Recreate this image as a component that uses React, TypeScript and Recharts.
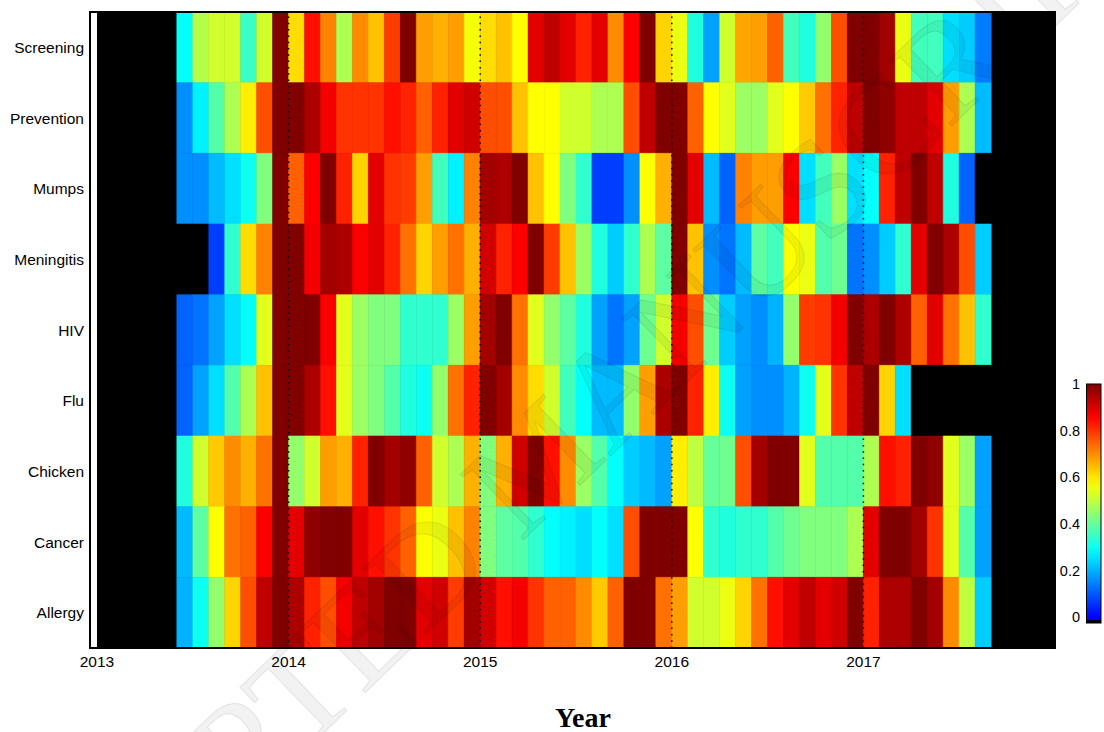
import React from 'react';
import { ScatterChart, Scatter, XAxis, YAxis, ReferenceArea, ReferenceLine } from 'recharts';

// Monthly intensity (0..1) per topic, June 2013 .. August 2017; null = no data
const CATEGORIES = ['Screening', 'Prevention', 'Mumps', 'Meningitis', 'HIV', 'Flu', 'Chicken', 'Cancer', 'Allergy'];
const FIRST_YEAR = 2013;
const LAST_YEAR = 2018;
const FIRST_MONTH = 5; // months after Jan 2013 (June 2013)
const YEAR_TICKS = [2013, 2014, 2015, 2016, 2017];
const YEAR_LINES = [2014, 2015, 2016, 2017];
const COLORBAR_TICKS = [0, 0.2, 0.4, 0.6, 0.8, 1];

const screening = [
  0.29, 0.49, 0.52, 0.52, 0.35, 0.52,
  1.0, 0.61, 0.84, 0.71, 0.48, 0.7, 0.64, 0.79, 1.0, 0.68,
  0.66, 0.68, 0.56, 0.61, 0.64, 0.57, 0.89, 0.93, 0.89, 0.82,
  0.89, 0.7, 0.86, 1.0, 0.62, 0.55, 0.32, 0.18, 0.52, 0.67,
  0.68, 0.75, 0.36, 0.32, 0.45, 0.77, 1.0, 1.0, 0.96, 0.55,
  0.36, 0.36, 0.25, 0.23, 0.14,
];
const prevention = [
  0.16, 0.27, 0.38, 0.48, 0.59, 0.77,
  1.0, 1.0, 0.95, 0.87, 0.8, 0.8, 0.8, 0.84, 0.82, 0.75,
  0.82, 0.89, 0.91, 0.77, 0.77, 0.64, 0.57, 0.57, 0.52, 0.52,
  0.48, 0.48, 0.77, 0.93, 1.0, 1.0, 0.75, 0.57, 0.54, 0.46,
  0.46, 0.54, 0.57, 0.63, 0.73, 0.82, 0.93, 1.0, 0.98, 0.93,
  0.93, 0.89, 0.68, 0.48, 0.21,
];
const mumps = [
  0.16, 0.16, 0.21, 0.25, 0.3, 0.43,
  1.0, 0.75, 0.86, 1.0, 0.82, 0.62, 0.89, 0.8, 0.79, 0.68,
  0.36, 0.27, 0.71, 0.96, 0.95, 1.0, 0.64, 0.57, 0.43, 0.34,
  0.07, 0.07, 0.16, 0.57, 0.66, 1.0, 0.89, 0.21, 0.11, 0.71,
  0.68, 0.68, 0.86, 0.25, 0.36, 0.46, 0.25, 0.29, 0.82, 0.93,
  1.0, 0.93, 0.32, 0.11, null,
];
const meningitis = [
  null, null, 0.07, 0.34, 0.61, 0.71,
  1.0, 1.0, 0.87, 0.96, 0.95, 0.86, 0.89, 0.82, 0.73, 0.62,
  0.68, 0.73, 0.66, 0.91, 0.82, 0.86, 1.0, 0.79, 0.64, 0.46,
  0.32, 0.23, 0.34, 0.48, 0.39, 1.0, 0.64, 0.16, 0.13, 0.21,
  0.39, 0.36, 0.57, 0.55, 0.38, 0.41, 0.13, 0.16, 0.23, 0.34,
  0.89, 1.0, 0.95, 0.77, 0.23,
];
const hiv = [
  0.11, 0.13, 0.18, 0.25, 0.29, 0.54,
  1.0, 1.0, 1.0, 0.86, 0.54, 0.46, 0.43, 0.43, 0.34, 0.34,
  0.34, 0.46, 0.68, 0.96, 1.0, 0.73, 0.54, 0.45, 0.39, 0.32,
  0.18, 0.13, 0.18, 0.41, 0.52, 0.87, 0.77, 0.41, 0.23, 0.18,
  0.16, 0.2, 0.45, 0.79, 0.8, 0.87, 1.0, 0.95, 1.0, 0.95,
  0.75, 0.89, 0.73, 0.64, 0.34,
];
const flu = [
  0.11, 0.18, 0.25, 0.38, 0.48, 0.64,
  1.0, 1.0, 0.95, 0.84, 0.54, 0.46, 0.43, 0.38, 0.32, 0.3,
  0.45, 0.73, 0.82, 1.0, 0.96, 0.7, 0.61, 0.52, 0.36, 0.29,
  0.21, 0.21, 0.45, 0.68, 0.95, 1.0, 0.82, 0.59, 0.3, 0.18,
  0.16, 0.16, 0.2, 0.3, 0.54, 0.8, 0.93, 1.0, 0.62, 0.25,
  null, null, null, null, null,
];
const chicken = [
  0.32, 0.52, 0.63, 0.7, 0.66, 0.73,
  1.0, 0.45, 0.52, 0.68, 0.66, 0.82, 1.0, 0.96, 0.98, 0.75,
  0.52, 0.48, 0.66, 0.43, 0.66, 0.91, 1.0, 0.84, 0.7, 0.46,
  0.38, 0.29, 0.23, 0.21, 0.18, 0.59, 0.5, 0.4, 0.41, 0.77,
  0.96, 1.0, 1.0, 0.54, 0.38, 0.38, 0.38, 0.48, 0.84, 0.82,
  1.0, 0.98, 0.54, 0.46, 0.18,
];
const cancer = [
  0.21, 0.39, 0.57, 0.73, 0.75, 0.86,
  1.0, 0.89, 0.98, 1.0, 1.0, 0.89, 0.84, 0.8, 0.75, 0.57,
  0.55, 0.64, 0.71, 0.43, 0.39, 0.38, 0.34, 0.29, 0.27, 0.25,
  0.29, 0.25, 0.77, 1.0, 1.0, 1.0, 0.57, 0.34, 0.32, 0.34,
  0.34, 0.38, 0.41, 0.43, 0.43, 0.43, 0.48, 0.89, 1.0, 1.0,
  0.96, 0.8, 0.54, 0.38, 0.18,
];
const allergy = [
  0.2, 0.3, 0.45, 0.62, 0.77, 0.93,
  1.0, 0.95, 0.82, 0.77, 0.87, 0.93, 0.96, 1.0, 1.0, 0.89,
  0.91, 0.79, 0.96, 0.91, 0.84, 0.87, 0.8, 0.75, 0.75, 0.7,
  0.63, 0.75, 1.0, 1.0, 0.73, 0.68, 0.52, 0.52, 0.55, 0.62,
  0.73, 0.84, 0.89, 0.93, 0.89, 0.91, 1.0, 0.82, 0.95, 0.95,
  1.0, 0.96, 0.7, 0.5, 0.23,
];

const SERIES: (number | null)[][] = [screening, prevention, mumps, meningitis, hiv, flu, chicken, cancer, allergy];

const X_MIN = 2012.9635;
const FONT = '"Liberation Sans", Arial, sans-serif';
const SERIF = '"Liberation Serif", "Times New Roman", serif';

// jet colormap, with the lowest slot reserved for black
function jet(v: number | null): string {
  if (v === null) return '#000';
  const t = 0.125 + 0.875 * Math.max(0, Math.min(1, v));
  const c = (x: number) => Math.round(255 * Math.max(0, Math.min(1, x)));
  const r = c(1.5 - Math.abs(4 * t - 3));
  const g = c(1.5 - Math.abs(4 * t - 2));
  const b = c(1.5 - Math.abs(4 * t - 1));
  return `rgb(${r},${g},${b})`;
}

type Cell = { x: number; y: number; x1: number; x2: number; y1: number; y2: number; v: number | null };

const cells: Cell[] = [];
SERIES.forEach((row, r) => {
  const yTop = CATEGORIES.length - r;
  row.forEach((v, i) => {
    const m = FIRST_MONTH + i;
    const x1 = FIRST_YEAR + m / 12;
    const x2 = FIRST_YEAR + (m + 1) / 12;
    cells.push({ x: (x1 + x2) / 2, y: yTop - 0.5, x1, x2, y1: yTop - 1, y2: yTop, v });
  });
});

const rowTicks = CATEGORIES.map((_, r) => CATEGORIES.length - r - 0.5);

const PLOT_TOP = 12;
const CB = { x: 1086.5, w: 14.5, yTop: 384, yZero: 617, yBottom: 623 };
const cbY = (v: number) => CB.yZero - v * (CB.yZero - CB.yTop);

export default function App() {
  const gradStops = Array.from({ length: 21 }, (_, k) => k / 20);
  return (
    <div style={{ position: 'absolute', left: 0, top: 0, width: 1104, height: 732, background: '#fff', overflow: 'hidden' }}>
      <ScatterChart width={1104} height={732} margin={{ top: PLOT_TOP, right: 49, bottom: 0, left: 0 }}>
        <XAxis
          type="number"
          dataKey="x"
          domain={[X_MIN, LAST_YEAR]}
          ticks={YEAR_TICKS}
          allowDataOverflow
          height={84}
          tickLine={false}
          axisLine={false}
          tickSize={6}
          tickMargin={2}
          tick={{ fill: '#000', fontSize: 15.5, fontFamily: FONT }}
        />
        <YAxis
          type="number"
          dataKey="y"
          domain={[0, CATEGORIES.length]}
          ticks={rowTicks}
          allowDataOverflow
          width={90}
          tickLine={false}
          axisLine={false}
          tickSize={4}
          tickMargin={2}
          tickFormatter={(v: number) => CATEGORIES[CATEGORIES.length - 1 - Math.floor(v)]}
          tick={{ fill: '#000', fontSize: 15.5, fontFamily: FONT }}
        />
        <ReferenceArea x1={FIRST_YEAR} x2={LAST_YEAR} y1={0} y2={CATEGORIES.length} fill="#000" fillOpacity={1} stroke="none" />
        {cells.map((c, k) => (
          <ReferenceArea
            key={k}
            x1={c.x1}
            x2={c.x2}
            y1={c.y1}
            y2={c.y2}
            fill={jet(c.v)}
            fillOpacity={1}
            stroke={jet(c.v)}
            strokeWidth={0.6}
          />
        ))}
        {YEAR_LINES.map((yr) => (
          <ReferenceLine key={yr} x={yr} stroke="#000" strokeWidth={1.5} strokeDasharray="1.5 4.8" />
        ))}
        <ReferenceArea x1={X_MIN} x2={LAST_YEAR} y1={0} y2={CATEGORIES.length} fill="none" fillOpacity={0} stroke="#000" strokeWidth={2} />
        <Scatter data={cells} isAnimationActive={false} shape={() => <g />} />
      </ScatterChart>

      <svg width={1104} height={732} style={{ position: 'absolute', left: 0, top: 0, pointerEvents: 'none' }}>
        <defs>
          <linearGradient id="cbGrad" gradientUnits="userSpaceOnUse" x1={0} y1={CB.yZero} x2={0} y2={CB.yTop}>
            {gradStops.map((s) => (
              <stop key={s} offset={s} stopColor={jet(s)} />
            ))}
          </linearGradient>
        </defs>
        <rect x={CB.x} y={CB.yTop} width={CB.w} height={CB.yBottom - 3 - CB.yTop} fill="url(#cbGrad)" />
        <rect x={CB.x} y={CB.yBottom - 3} width={CB.w} height={3} fill="#000" />
        <rect x={CB.x} y={CB.yTop} width={CB.w} height={CB.yBottom - CB.yTop} fill="none" stroke="#000" strokeWidth={1} />
        {COLORBAR_TICKS.map((v) => (
          <text key={v} x={1080} y={cbY(v)} dy="0.36em" textAnchor="end" fontSize={14.5} fontFamily={FONT} fill="#000">
            {String(v)}
          </text>
        ))}
        <text x={583} y={727} textAnchor="middle" fontSize={28} fontWeight="bold" fontFamily={SERIF} fill="#000">
          Year
        </text>
        <g transform="translate(540,460) rotate(-44)">
          <text
            x={0}
            y={46}
            textAnchor="middle"
            fontSize={139}
            fontFamily={SERIF}
            fill="rgba(0,0,0,0.05)"
            stroke="rgba(0,0,0,0.08)"
            strokeWidth={1.2}
          >
            ACCEPTED MANUSCRIPT
          </text>
        </g>
      </svg>
    </div>
  );
}
